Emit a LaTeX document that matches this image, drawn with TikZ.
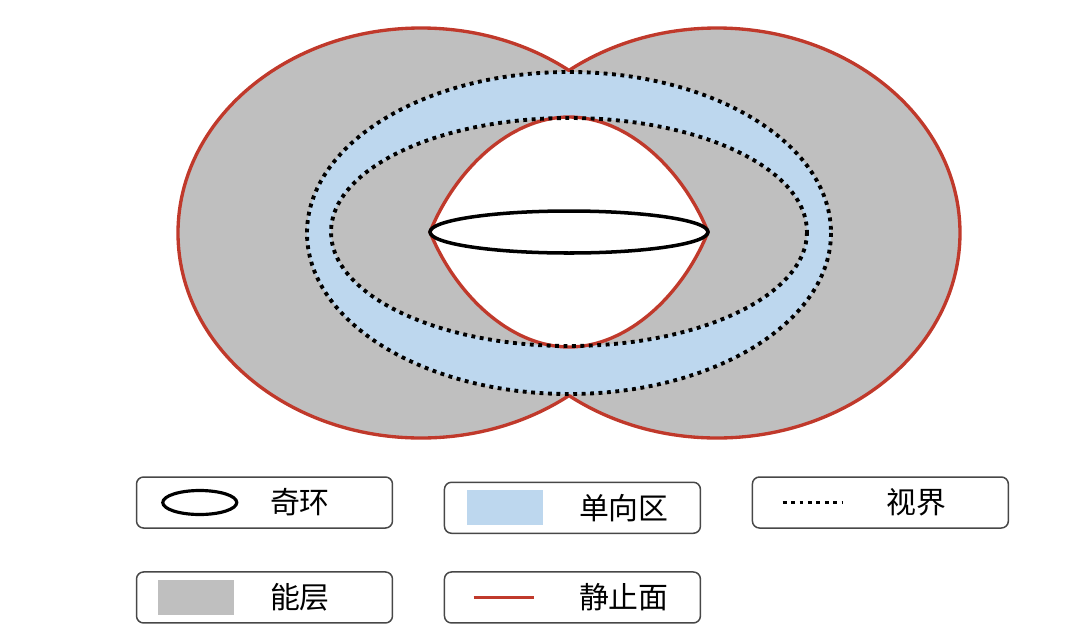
\documentclass[tikz,border=0pt]{standalone}
\usepackage{fontspec}
\newfontfamily\cjk{Noto Sans CJK SC}
\usepackage{xcolor}
\usetikzlibrary{positioning}
\definecolor{statred}{RGB}{192,57,43}
\definecolor{ergogray}{RGB}{191,191,191}
\definecolor{onewayblue}{RGB}{189,215,238}
\tikzstyle{legendbox} = [rectangle, rounded corners=4pt, minimum width=5.12cm, minimum height=1.02cm, draw=black!72, line width=0.85pt]
\tikzstyle{legendtext} = [anchor=west, inner sep=0pt, font=\cjk\fontsize{17}{20}\selectfont]
\tikzstyle{swatch} = [rectangle, inner sep=0pt, minimum width=1.52cm, minimum height=0.7cm]
\tikzstyle{horizon} = [line width=2.2pt, dash pattern=on 2.2pt off 2.6pt]
\tikzstyle{static} = [statred, line width=1.9pt]
\tikzstyle{ringline} = [black, line width=2pt]

\begin{document}
\begin{tikzpicture}[x=0.02cm, y=-0.02cm, node distance=6.16cm]
   \useasboundingbox (0,0) rectangle (1080,637);
   % ergosphere
   \fill[ergogray] (421,233) ellipse [x radius=243, y radius=205];
   \fill[ergogray] (717,233) ellipse [x radius=243, y radius=205];
   \begin{scope}
      \clip (0,0) rectangle (569,637);
      \draw[static] (421,233) ellipse [x radius=243, y radius=205];
   \end{scope}
   \begin{scope}
      \clip (569,0) rectangle (1080,637);
      \draw[static] (717,233) ellipse [x radius=243, y radius=205];
   \end{scope}
   % one-way zone
   \fill[onewayblue, even odd rule] (569,233) ellipse [x radius=262, y radius=161]
      (569,232) ellipse [x radius=238, y radius=114];
   \filldraw[static, fill=white] (430,232) .. controls (455,170) and (510,117) .. (569,117)
      .. controls (628,117) and (683,170) .. (708,232)
      .. controls (683,294) and (628,347) .. (569,347)
      .. controls (510,347) and (455,294) .. (430,232) -- cycle;
   % horizons
   \draw[horizon] (569,233) ellipse [x radius=262, y radius=161];
   \draw[horizon] (569,232) ellipse [x radius=238, y radius=114];
   % ring singularity
   \draw[ringline] (569,232) ellipse [x radius=139, y radius=21];

   % legend
   \node (ringkey) [legendbox] at (264.5,502.5) {};
   \node (onewaykey) [legendbox, right of=ringkey, yshift=-3pt] {};
   \node (horizonkey) [legendbox, right of=ringkey, node distance=12.32cm] {};
   \node (ergokey) [legendbox, below of=ringkey, node distance=1.9cm] {};
   \node (statickey) [legendbox, right of=ergokey] {};

   \draw[ringline, line width=1.8pt] ([xshift=1.28cm]ringkey.west) ellipse [x radius=37, y radius=12];
   \node (onewaysym) [swatch, fill=onewayblue] at ([xshift=1.22cm]onewaykey.west) {};
   \draw[horizon] ([xshift=0.62cm]horizonkey.west) -- ++(60,0);
   \node (ergosym) [swatch, fill=ergogray] at ([xshift=1.21cm]ergokey.west) {};
   \draw[static] ([xshift=0.6cm]statickey.west) -- ++(60,0);

   \node (ringtext) [legendtext] at ([xshift=2.68cm]ringkey.west) {奇环};
   \node (onewaytext) [legendtext] at ([xshift=2.7cm]onewaykey.west) {单向区};
   \node (horizontext) [legendtext] at ([xshift=2.7cm]horizonkey.west) {视界};
   \node (ergotext) [legendtext] at ([xshift=2.68cm]ergokey.west) {能层};
   \node (statictext) [legendtext] at ([xshift=2.7cm]statickey.west) {静止面};
\end{tikzpicture}
\end{document}
